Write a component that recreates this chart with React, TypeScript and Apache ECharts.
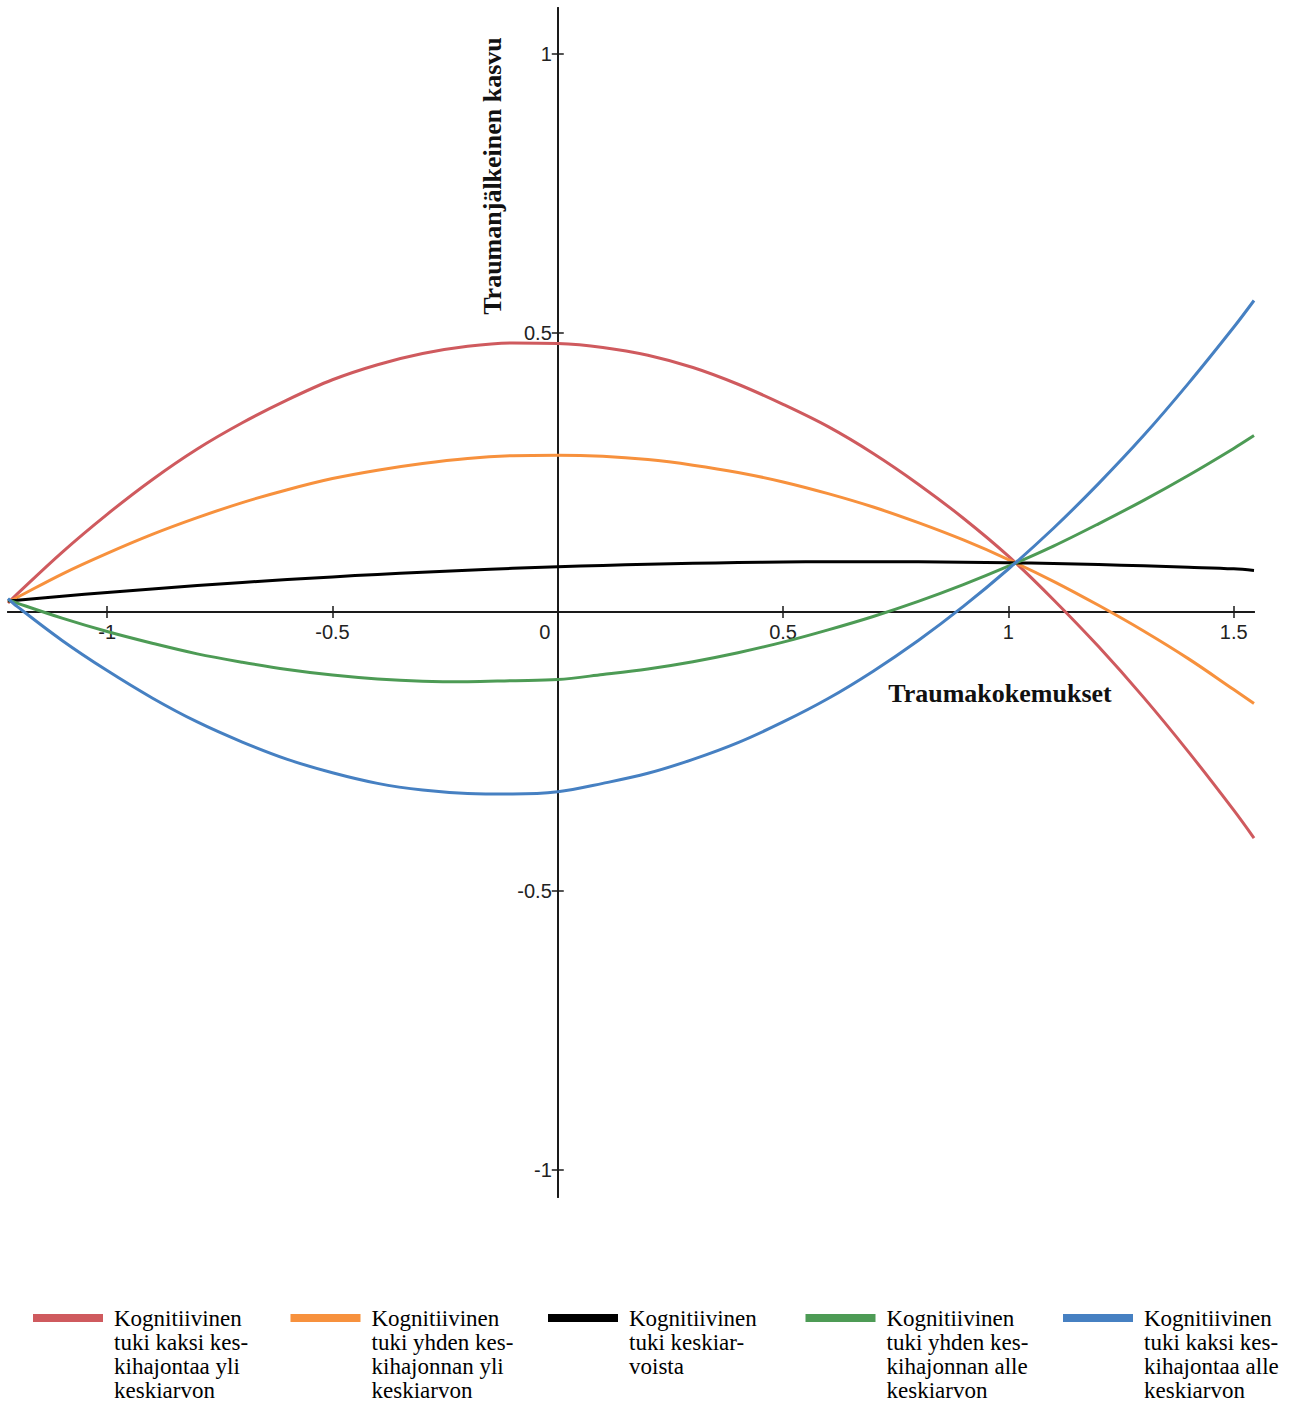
import React, { useEffect, useRef } from "react";
import * as echarts from "echarts";

const xValues = [-1.22, -1.2, -1.1, -1.0, -0.9, -0.8, -0.7, -0.6, -0.5, -0.4, -0.3, -0.2, -0.1, 0, 0.1, 0.2, 0.3, 0.4, 0.5, 0.6, 0.7, 0.8, 0.9, 1.0, 1.1, 1.2, 1.3, 1.4, 1.5, 1.545];

const redValues = [0.016, 0.032, 0.107, 0.175, 0.237, 0.292, 0.339, 0.380, 0.416, 0.443, 0.463, 0.476, 0.482, 0.481, 0.474, 0.460, 0.438, 0.408, 0.372, 0.332, 0.284, 0.229, 0.168, 0.100, 0.022, -0.062, -0.153, -0.251, -0.355, -0.405];
const orangeValues = [0.018, 0.026, 0.068, 0.105, 0.139, 0.169, 0.196, 0.219, 0.239, 0.254, 0.266, 0.275, 0.280, 0.281, 0.279, 0.273, 0.263, 0.250, 0.233, 0.212, 0.188, 0.160, 0.129, 0.094, 0.055, 0.012, -0.034, -0.084, -0.139, -0.164];
const blackValues = [0.0197, 0.0211, 0.0283, 0.035, 0.0413, 0.0473, 0.0529, 0.0581, 0.0629, 0.0673, 0.0713, 0.0749, 0.0782, 0.081, 0.0835, 0.0855, 0.0872, 0.0885, 0.0895, 0.09, 0.0901, 0.0899, 0.0892, 0.0882, 0.0868, 0.085, 0.0828, 0.0802, 0.0773, 0.0745];
const greenValues = [0.022, 0.016, -0.011, -0.035, -0.056, -0.075, -0.090, -0.103, -0.113, -0.120, -0.124, -0.125, -0.123, -0.121, -0.112, -0.102, -0.089, -0.073, -0.054, -0.032, -0.008, 0.019, 0.049, 0.082, 0.118, 0.158, 0.200, 0.245, 0.293, 0.316];
const blueValues = [0.024, 0.010, -0.051, -0.105, -0.154, -0.197, -0.233, -0.264, -0.288, -0.307, -0.319, -0.325, -0.326, -0.322, -0.307, -0.289, -0.264, -0.234, -0.197, -0.155, -0.106, -0.051, 0.010, 0.077, 0.150, 0.230, 0.316, 0.410, 0.510, 0.558];

const seriesNames = [
  "Kognitiivinen\ntuki kaksi kes-\nkihajontaa yli\nkeskiarvon",
  "Kognitiivinen\ntuki yhden kes-\nkihajonnan yli\nkeskiarvon",
  "Kognitiivinen\ntuki keskiar-\nvoista",
  "Kognitiivinen\ntuki yhden kes-\nkihajonnan alle\nkeskiarvon",
  "Kognitiivinen\ntuki kaksi kes-\nkihajontaa alle\nkeskiarvon",
];
const seriesColors = ["#CF5A5E", "#F7913D", "#000000", "#4D9B55", "#4680C2"];
const seriesValues = [redValues, orangeValues, blackValues, greenValues, blueValues];

const xTicks = [-1, -0.5, 0, 0.5, 1, 1.5];
const yTicks = [-1, -0.5, 0.5, 1];

const xTitle = "Traumakokemukset";
const yTitle = "Traumanjälkeinen kasvu";

const X_MIN = -1.22;
const X_MAX = 1.545;
const Y_MIN = -1.048;
const Y_MAX = 1.082;

export default function App() {
  const ref = useRef<HTMLDivElement>(null);
  useEffect(() => {
    if (!ref.current) return;
    const chart = echarts.init(ref.current, undefined, { renderer: "svg" });
    const W = 1295;
    const H = 1404;
    const gLeft = 8;
    const gRight = 41;
    const gTop = 8;
    const gBottom = 207;
    const gW = W - gLeft - gRight;
    const gH = H - gTop - gBottom;
    // where the zero lines fall inside the grid
    const zeroX = gLeft + ((0 - X_MIN) / (X_MAX - X_MIN)) * gW;
    const zeroY = gTop + ((Y_MAX - 0) / (Y_MAX - Y_MIN)) * gH;

    const axisLineStyle = { color: "#1a1a1a", width: 2 };
    const tickStyle = { color: "#1a1a1a", width: 1.5 };
    const labelFont = { fontFamily: "Liberation Sans", fontSize: 20, color: "#222" };
    const xBase = {
      type: "value",
      min: X_MIN,
      max: X_MAX,
      splitLine: { show: false },
      axisLine: { onZero: false, lineStyle: axisLineStyle },
      axisTick: { show: true, length: 6, customValues: xTicks, lineStyle: tickStyle },
    };
    const yBase = {
      type: "value",
      min: Y_MIN,
      max: Y_MAX,
      splitLine: { show: false },
      axisLine: { onZero: false, lineStyle: axisLineStyle },
      axisTick: { show: true, length: 6, customValues: yTicks, lineStyle: tickStyle },
    };
    const option: any = {
      animation: false,
      backgroundColor: "#ffffff",
      grid: {
        left: gLeft,
        right: gRight,
        top: gTop,
        bottom: gBottom,
        containLabel: false,
        outerBoundsMode: "none",
      },
      xAxis: [
        {
          ...xBase,
          position: "bottom",
          offset: -(gTop + gH - zeroY),
          axisLabel: {
            ...labelFont,
            margin: 10,
            customValues: xTicks,
            formatter: (v: number) => (v === 0 ? "{z|0}" : String(v)),
            rich: { z: { ...labelFont, padding: [0, 26, 0, 0] } },
          },
        },
        {
          ...xBase,
          position: "top",
          offset: -(zeroY - gTop),
          axisLabel: { show: false },
        },
      ],
      yAxis: [
        {
          ...yBase,
          position: "left",
          offset: -(zeroX - gLeft),
          axisLabel: { ...labelFont, margin: 6, customValues: yTicks },
        },
        {
          ...yBase,
          position: "right",
          offset: -(gLeft + gW - zeroX),
          axisLabel: { show: false },
        },
      ],
      legend: {
        left: 33,
        top: 1234,
        width: 1262,
        padding: 0,
        icon: "rect",
        itemWidth: 70,
        itemHeight: 8,
        itemGap: 10,
        selectedMode: false,
        formatter: (name: string) =>
          "\n\n\n" + (name.split("\n").length < 4 ? name + "\n" : name),
        textStyle: {
          fontFamily: "Liberation Serif",
          fontSize: 23,
          lineHeight: 24,
          color: "#000",
          width: 166.5,
          padding: [0, 0, 0, 6],
        },
        data: seriesNames.map((name, i) =>
          i === seriesNames.length - 1
            ? { name, textStyle: { width: 140 } }
            : { name }
        ),
      },
      graphic: [
        {
          type: "text",
          x: 492,
          y: 176,
          rotation: Math.PI / 2,
          style: {
            text: yTitle,
            fontFamily: "Liberation Serif",
            fontWeight: "bold",
            fontSize: 26,
            fill: "#111",
            align: "center",
            verticalAlign: "middle",
          },
        },
        {
          type: "text",
          x: 1000,
          y: 693,
          style: {
            text: xTitle,
            fontFamily: "Liberation Serif",
            fontWeight: "bold",
            fontSize: 26,
            fill: "#111",
            align: "center",
            verticalAlign: "middle",
          },
        },
      ],
      series: seriesNames.map((name, i) => ({
        name,
        type: "line",
        xAxisIndex: 0,
        yAxisIndex: 0,
        smooth: 0.35,
        showSymbol: false,
        symbol: "none",
        color: seriesColors[i],
        lineStyle: { width: 3, color: seriesColors[i] },
        data: xValues.map((x, j) => [x, seriesValues[i][j]]),
      })),
    };
    chart.setOption(option);
    return () => chart.dispose();
  }, []);
  return (
    <div
      ref={ref}
      style={{ position: "absolute", left: 0, top: 0, width: 1295, height: 1404 }}
    />
  );
}
